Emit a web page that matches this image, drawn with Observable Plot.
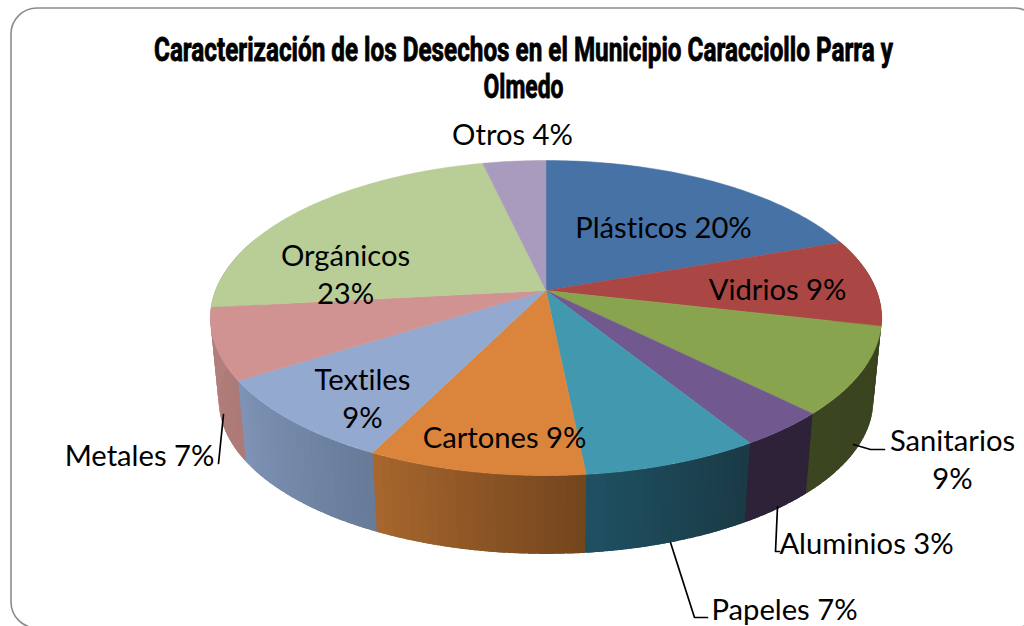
<!DOCTYPE html>
<html>
<head>
<meta charset="utf-8">
<style>html,body{margin:0;padding:0;background:#fff;overflow:hidden}text{font-variant-ligatures:none}</style>
<script src="https://cdn.jsdelivr.net/npm/d3@7"></script>
<script src="https://cdn.jsdelivr.net/npm/@observablehq/plot@0.6"></script>
</head>
<body>
<div id="chart"></div>
<script>
const categories = ["Plásticos","Vidrios","Sanitarios","Aluminios","Papeles","Cartones","Textiles","Metales","Orgánicos","Otros"];
const shares = [19.6,9.0,8.9,3.7,7.2,8.9,8.7,7.3,23.1,3.6];
const topColors = ["#4672a6","#aa4644","#89a44e","#71588f","#4198af","#db843c","#93a9cf","#d19392","#b9cd96","#a99bbd"];
const wallLeft = ["#39431f","#39431f","#3b4520","#2e2239","#1f5162","#a8672d","#7f94b6","#b27f7d","#b27f7d","#b27f7d"];
const wallRight = ["#39431f","#39431f","#39431f","#2e2239","#1a3945","#73451d","#677a98","#ad7a78","#b27f7d","#b27f7d"];

const title = ["Caracterización de los Desechos en el Municipio Caracciollo Parra y","Olmedo"];
const titleWidths = [739,80];
const labelTexts = ["Plásticos 20%","Vidrios 9%","Sanitarios\n9%","Aluminios 3%","Papeles 7%","Cartones 9%","Textiles\n9%","Metales 7%","Orgánicos\n23%","Otros 4%"];
const labelX = [663,777,952,866,784,504,362,139,345,512];
const labelY = [225,287,457,541,607,435,396,453,272,132];

const leaderSanitarios = [[853,444],[870,449],[884,449]];
const leaderAluminios = [[777,506],[775,551],[779,551]];
const leaderPapeles = [[670,542],[694,617],[707,617]];
const leaderMetales = [[223,414],[218,463]];

// Projection of the tilted disc
const cx = 545.5, cy = 290, A = 330.5, B = 152.7, k = 0.1746, depth = 83, shrink = 0.975;
function rim(deg, bottom) {
  const t = deg * Math.PI / 180, w = 1 + k * Math.cos(t);
  const px = A * Math.sin(t) / w, py = -B * Math.cos(t) / w;
  return bottom ? [cx + shrink * px, cy + depth + shrink * py] : [cx + px, cy + py];
}

let acc = 0;
const slices = shares.map((v, i) => {
  const start = acc / 100 * 360; acc += v;
  return {i, name: categories[i], start, end: acc / 100 * 360};
});

const topPoly = slices.flatMap(s => {
  const color = topColors[s.i];
  const pts = [{id: s.i, x: cx, y: cy, color}];
  for (let d = s.start; d < s.end; d += 1) { const [x, y] = rim(d); pts.push({id: s.i, x, y, color}); }
  const [x, y] = rim(s.end); pts.push({id: s.i, x, y, color});
  pts.push({id: s.i, x: cx, y: cy, color});
  return pts;
});

const wallPoly = [];
slices.forEach(s => {
  const lo = Math.max(s.start, 70), hi = Math.min(s.end, 290);
  if (hi <= lo) return;
  const mix = d3.interpolateRgb(wallRight[s.i], wallLeft[s.i]);
  const n = Math.max(1, Math.ceil((hi - lo) / 1.5));
  for (let j = 0; j < n; j++) {
    const a = lo + (hi - lo) * j / n, b = lo + (hi - lo) * (j + 1) / n + 1.2;
    const color = mix((j + 0.5) / n), id = s.i + "-" + j;
    [rim(a), rim((a + b) / 2), rim(b), rim(b, true), rim((a + b) / 2, true), rim(a, true), rim(a)]
      .forEach(([x, y]) => wallPoly.push({id, x, y, color}));
  }
});

const labels = labelTexts.map((text, i) => ({text, x: labelX[i], y: labelY[i]}));
const leaders = [leaderSanitarios, leaderAluminios, leaderPapeles, leaderMetales]
  .flatMap((l, id) => l.map(([x, y]) => ({id, x, y})));

const chart = Plot.plot({
  width: 1024, height: 626, margin: 0,
  x: {domain: [0, 1024], range: [0, 1024], axis: null},
  y: {domain: [0, 626], range: [0, 626], axis: null},
  style: {background: "#fff"},
  marks: [
    Plot.rect([{a: 11, b: 1040, c: 8, d: 628}], {x1: "a", x2: "b", y1: "c", y2: "d", rx: 26, fill: "#fff", stroke: "#8c8c8c", strokeWidth: 1.6}),
    Plot.line(wallPoly, {x: "x", y: "y", z: "id", fill: "color", curve: "linear"}),
    Plot.line(topPoly, {x: "x", y: "y", z: "id", fill: "color", stroke: "color", strokeWidth: 0.5, curve: "linear"}),
    Plot.line(leaders, {x: "x", y: "y", z: "id", stroke: "#000", strokeWidth: 1.7, curve: "linear"}),
    Plot.text(labels, {x: "x", y: "y", text: "text", fontFamily: "Lato", fontSize: 29.2, lineHeight: 1.31, fill: "#000"}),
    Plot.text(title.map((t, i) => ({t, y: 49.5 + i * 37})), {x: () => 523, y: "y", text: "t", fontFamily: "Roboto", fontWeight: "bold", fontSize: 27, fill: "#000", stroke: "#000", strokeWidth: 0.7, className: "chart-title"})
  ]
});
// The title's heavy condensed face is approximated: glyphs fitted to the reference line widths and heightened
chart.querySelectorAll(".chart-title text").forEach((el, i) => {
  el.setAttribute("textLength", titleWidths[i]);
  el.setAttribute("lengthAdjust", "spacingAndGlyphs");
  el.setAttribute("transform", (el.getAttribute("transform") || "") + " scale(1,1.22)");
});
document.getElementById("chart").appendChild(chart);
</script>
</body>
</html>
